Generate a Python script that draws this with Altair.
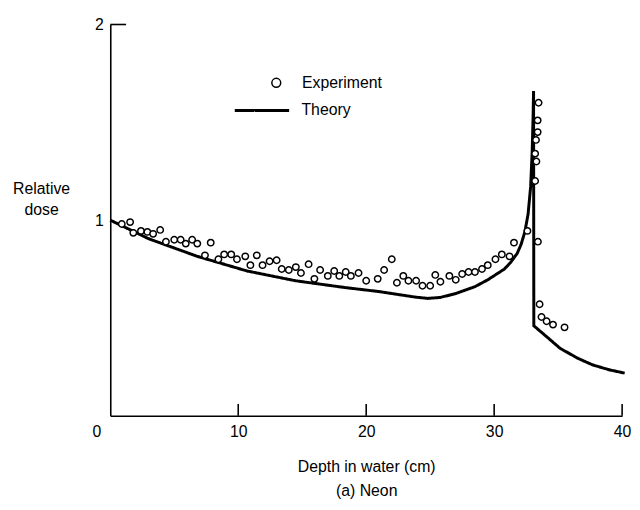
import altair as alt
import pandas as pd

# Theory curve (depth cm, relative dose)
theory_x = [0, 3.0, 6.8, 10.7, 14.5, 18.4, 21.0, 22.5, 23.8, 24.8, 25.8, 27.0, 28.5, 29.5,
            30.8, 31.3, 31.8, 32.1, 32.4, 32.65, 32.85, 32.97, 33.04, 33.08, 33.1,
            34.0, 35.15, 36.5, 37.7, 39.0, 40.2]
theory_y = [1.0, 0.905, 0.815, 0.74, 0.69, 0.655, 0.635, 0.62, 0.607, 0.60, 0.605, 0.625,
            0.66, 0.695, 0.75, 0.785, 0.83, 0.875, 0.94, 1.03, 1.17, 1.35, 1.52, 1.66,
            0.46, 0.41, 0.345, 0.295, 0.26, 0.235, 0.218]

# Experimental points
exp_x = [0.9, 1.55, 1.8, 2.4, 2.9, 3.35, 3.9, 4.35, 5.0, 5.5, 5.9, 6.4, 6.8, 7.4, 7.85,
         8.45, 8.9, 9.45, 9.9, 10.55, 10.95, 11.45, 11.9, 12.45, 13.0, 13.4, 13.95,
         14.5, 14.9, 15.5, 15.95, 16.4, 17.0, 17.5, 17.9, 18.4, 18.8, 19.4, 20.0,
         20.9, 21.4, 22.0, 22.4, 22.9, 23.3, 23.9, 24.4, 25.0, 25.4, 25.8, 26.5,
         27.0, 27.5, 28.0, 28.5, 29.05, 29.5, 30.1, 30.6, 31.2, 31.55, 32.6, 33.2,
         33.2, 33.3, 33.27, 33.4, 33.4, 33.47, 33.42, 33.55, 33.7, 34.1, 34.6, 35.5]
exp_y = [0.98, 0.99, 0.935, 0.945, 0.94, 0.93, 0.95, 0.89, 0.90, 0.90, 0.88, 0.90, 0.88,
         0.82, 0.885, 0.80, 0.825, 0.825, 0.80, 0.815, 0.77, 0.82, 0.77, 0.79, 0.795,
         0.75, 0.745, 0.76, 0.73, 0.775, 0.70, 0.745, 0.715, 0.74, 0.715, 0.735, 0.715,
         0.73, 0.69, 0.70, 0.745, 0.80, 0.68, 0.715, 0.69, 0.69, 0.665, 0.665, 0.72,
         0.685, 0.715, 0.695, 0.725, 0.735, 0.735, 0.75, 0.77, 0.80, 0.825, 0.815,
         0.885, 0.945, 1.20, 1.34, 1.30, 1.41, 1.45, 1.51, 1.60, 0.89, 0.57, 0.505,
         0.483, 0.466, 0.452]

x_ticks = [10, 20, 30, 40]
x_labels = [0, 10, 20, 30, 40]
y_labels = [1, 2]
y_tick = [2]

FONT = "Liberation Sans"
W, H = 518, 396

theory = pd.DataFrame({"depth": theory_x, "dose": theory_y,
                       "idx": list(range(len(theory_x))), "theo": "Theory"})
exp = pd.DataFrame({"depth": exp_x, "dose": exp_y, "exp": "Experiment"})
xt = pd.DataFrame({"depth": x_ticks})
yt = pd.DataFrame({"dose": y_tick})

xscale = alt.Scale(domain=[0, 40], nice=False, zero=False)
yscale = alt.Scale(domain=[0, 2], nice=False, zero=False)

xaxis = alt.Axis(
    values=x_labels, ticks=False, grid=False, domainColor="black", domainWidth=1.6,
    labelFont=FONT, labelFontSize=16, labelColor="black", labelPadding=8,
    labelFlush=False, labelOverlap=False, format="d",
    labelOffset={"condition": {"test": "datum.value === 0", "value": -14}, "value": 0},
    title=["Depth in water (cm)", "(a) Neon"], titleFont=FONT, titleFontSize=16,
    titleFontWeight="normal", titleColor="black", titleLineHeight=25,
    titleBaseline="alphabetic", titleY=56,
)
yaxis = alt.Axis(
    values=y_labels, ticks=False, grid=False, domainColor="black", domainWidth=1.6,
    labelFont=FONT, labelFontSize=16, labelColor="black", labelPadding=7, format="d",
    title=["Relative", "dose"], titleFont=FONT, titleFontSize=16,
    titleFontWeight="normal", titleColor="black", titleAngle=0, titleAlign="center",
    titleBaseline="alphabetic", titleX=-70, titleY=171, titleLineHeight=21,
)

line = alt.Chart(theory).mark_line(strokeWidth=3, clip=False, color="black").encode(
    x=alt.X("depth:Q", scale=xscale, axis=xaxis),
    y=alt.Y("dose:Q", scale=yscale, axis=yaxis),
    order="idx:Q",
    strokeDash=alt.StrokeDash(
        "theo:N", scale=alt.Scale(domain=["Theory"], range=[[1, 0]]),
        legend=alt.Legend(orient="none", legendX=124.5, legendY=58, title=None,
                          padding=0, symbolType="stroke", symbolSize=3025,
                          symbolStrokeWidth=3, symbolStrokeColor="black", labelOffset=11,
                          labelFont=FONT, labelFontSize=16, labelColor="black")),
)

points = alt.Chart(exp).mark_point(filled=False, fill="white", shape="circle",
                                   strokeWidth=1.5, size=42, opacity=1).encode(
    x=alt.X("depth:Q", scale=xscale),
    y=alt.Y("dose:Q", scale=yscale),
    color=alt.Color(
        "exp:N", scale=alt.Scale(domain=["Experiment"], range=["black"]),
        legend=alt.Legend(orient="none", legendX=160, legendY=51, title=None,
                          padding=0, symbolType="circle", symbolSize=81,
                          symbolStrokeWidth=1.5, symbolOpacity=1,
                          symbolStrokeColor="black", symbolFillColor="white",
                          labelOffset=18, labelFont=FONT, labelFontSize=16,
                          labelColor="black")),
)

xticks = alt.Chart(xt).mark_rule(color="black", strokeWidth=1.6).encode(
    x=alt.X("depth:Q", scale=xscale),
    y=alt.value(H),
    y2=alt.value(H - 12),
)

yticks = alt.Chart(yt).mark_rule(color="black", strokeWidth=1.6).encode(
    y=alt.Y("dose:Q", scale=yscale),
    x=alt.value(0),
    x2=alt.value(16),
)

chart = alt.layer(line, points, xticks, yticks).properties(
    width=W, height=H,
    autosize=alt.AutoSizeParams(type="none"),
    padding={"left": 103.5, "top": 13.7, "right": 10, "bottom": 90},
    background="white",
).configure_view(stroke=None)

chart.save("out.html", embed_options={"renderer": "svg", "actions": False})
